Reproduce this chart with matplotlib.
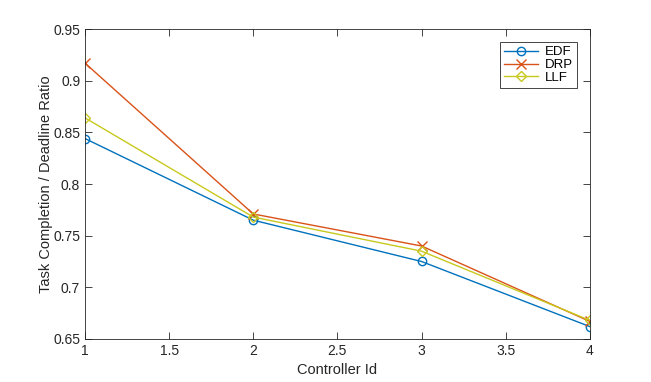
import matplotlib.pyplot as plt

plt.rcParams['font.family'] = 'Liberation Sans'

controller_id = [1, 2, 3, 4]
edf = [0.844, 0.765, 0.725, 0.662]
drp = [0.917, 0.771, 0.740, 0.667]
llf = [0.864, 0.768, 0.735, 0.668]

fig = plt.figure(figsize=(6.51, 3.82), dpi=100)
ax = fig.add_axes([0.1306, 0.1126, 0.7754, 0.8114])

ax.plot(controller_id, edf, color='#0072BD', marker='o', markerfacecolor='none',
        markersize=6, linewidth=1, label='EDF')
ax.plot(controller_id, drp, color='#D95319', marker='x',
        markersize=7, linewidth=1, label='DRP')
ax.plot(controller_id, llf, color='#C8C81E', marker='D', markerfacecolor='none',
        markersize=5.5, linewidth=1, label='LLF')

ax.set_xlim(1, 4)
ax.set_ylim(0.65, 0.95)
ax.set_xticks([1, 1.5, 2, 2.5, 3, 3.5, 4])
ax.set_xticklabels(['1', '1.5', '2', '2.5', '3', '3.5', '4'])
ax.set_yticks([0.65, 0.7, 0.75, 0.8, 0.85, 0.9, 0.95])
ax.set_yticklabels(['0.65', '0.7', '0.75', '0.8', '0.85', '0.9', '0.95'])
ax.tick_params(direction='in', top=True, right=True, labelsize=10,
               colors='#262626', length=5, width=0.6)
for s in ax.spines.values():
    s.set_color('#262626')
    s.set_linewidth(0.6)

ax.set_xlabel('Controller Id', fontsize=10.5, color='#262626', labelpad=4)
ax.set_ylabel('Task Completion / Deadline Ratio', fontsize=10.5, color='#262626', labelpad=0)

leg = ax.legend(loc='upper right', fontsize=9.5, fancybox=False, framealpha=1,
                edgecolor='#262626', borderpad=0.3, handlelength=2.6,
                labelspacing=0.05, handletextpad=0.5, borderaxespad=0,
                bbox_to_anchor=(0.974, 0.958))
leg.get_frame().set_linewidth(0.6)

fig.savefig('out.png', dpi=100)
